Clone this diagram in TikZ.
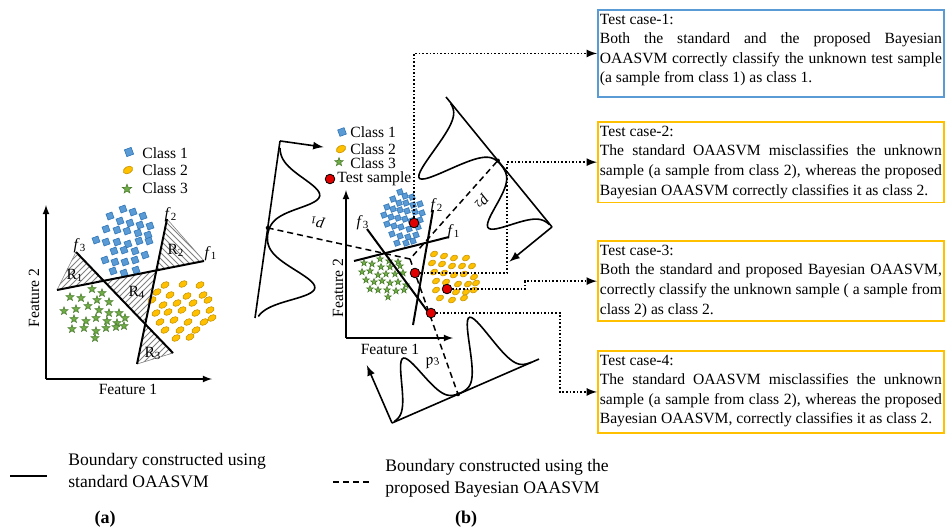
\documentclass[tikz,border=0pt]{standalone}
\usepackage{fontspec}
\setmainfont{Liberation Serif}
\usepackage{tikz}
\usetikzlibrary{arrows}
\usetikzlibrary{shapes.geometric}
\usetikzlibrary{patterns}

\definecolor{sqblue}{HTML}{5B9BD5}
\definecolor{sqblueline}{HTML}{2E75B6}
\definecolor{ovyellow}{HTML}{FFC000}
\definecolor{ovyellowline}{HTML}{C79400}
\definecolor{stgreen}{HTML}{70AD47}
\definecolor{stgreenline}{HTML}{4E7F31}
\definecolor{smred}{HTML}{E00000}
\definecolor{caseblue}{HTML}{5B9BD5}
\definecolor{caseyellow}{HTML}{FFC000}

% one justified line of a test-case box
\newcommand{\jline}[1]{{\spaceskip=0pt\xspaceskip=0pt\makebox[171pt][s]{#1}}}

\tikzset{
  cls1/.style={rectangle, draw=sqblueline, fill=sqblue, line width=0.3pt, minimum size=3.1pt, inner sep=0pt, rotate=20},
  cls2/.style={ellipse, draw=ovyellowline, fill=ovyellow, line width=0.3pt, minimum width=4.4pt, minimum height=2.9pt, inner sep=0pt, rotate=30},
  cls3/.style={star, star points=5, star point ratio=2.4, draw=stgreenline, fill=stgreen, line width=0.3pt, minimum size=4.2pt, inner sep=0pt},
  testpt/.style={circle, draw=black, fill=smred, line width=0.4pt, minimum size=4.8pt, inner sep=0pt},
  bound/.style={line width=1pt},
  bayes/.style={line width=0.75pt, dash pattern=on 3pt off 2pt},
  feat/.style={-latex, line width=0.6pt},
  gauss/.style={line width=0.8pt},
  route/.style={densely dotted, line width=0.8pt, -latex},
  casebox/.style={draw, line width=0.9pt, anchor=north west, text width=171pt, inner xsep=1pt, inner ysep=2pt, align=justify, font=\fontsize{7.8}{9.8}\selectfont},
  lbl/.style={font=\fontsize{7.8}{9.8}\selectfont, inner sep=1pt},
  hatch/.style={pattern=north east lines, pattern color=gray},
}

\begin{document}
\begin{tikzpicture}[x=0.5pt, y=-0.5pt]
\useasboundingbox (0,0) rectangle (945,530);

% ---------- (a) ----------
\draw[feat] (46,379) -- (46,205);
\draw[feat] (46,379) -- (212,379);
\node[lbl, rotate=90] (afeat2) at (34,298) {Feature 2};
\node[lbl] (afeat1) at (128,389) {Feature 1};

\coordinate (a1s) at (57,290);  \coordinate (a1e) at (204,261);
\coordinate (a2s) at (167,219); \coordinate (a2e) at (137,364);
\coordinate (a3s) at (76,252);  \coordinate (a3e) at (173,353);
\coordinate (a12) at (intersection of a1s--a1e and a2s--a2e);
\coordinate (a13) at (intersection of a1s--a1e and a3s--a3e);
\coordinate (a23) at (intersection of a2s--a2e and a3s--a3e);

% hatched regions
\fill[hatch] (a3s) -- (a1s) -- (a13) -- cycle;
\fill[hatch, pattern=north west lines] (a2s) -- (a1e) -- (a12) -- cycle;
\fill[hatch] (a2e) -- (a3e) -- (a23) -- cycle;
\fill[hatch] (a13) -- (a12) -- (a23) -- cycle;
\draw[gray, line width=0.3pt] (a3s) -- (a1s);
\draw[gray, line width=0.3pt] (a2s) -- (a1e);
\draw[gray, line width=0.3pt] (a2e) -- (a3e);

% samples
\foreach \p [count=\k] in {(123,209),(133,212),(143,216),(110,216),(120,221),(130,223),(140,225),(150,226),
  (106,229),(117,230),(127,231),(138,233),(148,235),(96,240),(106,242),(117,242),(128,244),(139,241),(149,241),
  (114,251),(124,250),(135,251),(145,255),(105,260),(115,262),(125,262),(135,260),(113,271),(124,273),(136,270)}
  \node[cls1] (asq\k) at \p {};
\foreach \p [count=\k] in {(92,289),(102,293),(70,297),(81,298),(97,300),(109,302),(64,311),(76,309),(88,306),
  (99,310),(109,313),(119,313),(125,318),(74,319),(86,321),(96,318),(107,321),(117,323),(72,329),(84,328),
  (96,331),(106,328),(116,327),(124,326),(95,338)}
  \node[cls3] (ast\k) at \p {};
\foreach \p [count=\k] in {(165,285),(183,284),(200,285),(157,292),(170,295),(187,296),(203,295),(152,300),
  (163,305),(177,303),(193,303),(208,300),(156,313),(168,312),(182,310),(196,313),(210,310),(160,322),(174,320),
  (188,322),(204,322),(212,318),(165,330),(180,330),(196,330),(176,338),(190,337)}
  \node[cls2] (aov\k) at \p {};

% boundaries
\draw[bound] (a1s) -- (a1e);
\draw[bound] (a2s) -- (a2e);
\draw[bound] (a3s) -- (a3e);
\node[lbl] (af1) at (211,254) {\textit{f}\textsubscript{1}};
\node[lbl] (af2) at (171,215) {\textit{f}\textsubscript{2}};
\node[lbl] (af3) at (80,246) {\textit{f}\textsubscript{3}};
\node[lbl] (ar1) at (75,275) {R\textsubscript{1}};
\node[lbl] (ar2) at (176,250) {R\textsubscript{2}};
\node[lbl] (ar3) at (153,353) {R\textsubscript{3}};
\node[lbl] (ar4) at (137,292) {R\textsubscript{4}};

% legend
\node[cls1, minimum size=3.6pt] (akey1) at (129,152) {};
\node[cls2, minimum width=5pt, minimum height=3.4pt] (akey2) at (128,170) {};
\node[cls3, minimum size=4.8pt] (akey3) at (127,189) {};
\node[lbl, anchor=west] (akey1t) at (140,153) {Class 1};
\node[lbl, anchor=west] (akey2t) at (140,170) {Class 2};
\node[lbl, anchor=west] (akey3t) at (140,188) {Class 3};

% ---------- (b) ----------
\draw[feat] (346,338) -- (346,190);
\draw[feat] (346,338) -- (453,338);
\node[lbl, rotate=90] (bfeat2) at (338,288) {Feature 2};
\node[lbl] (bfeat1) at (390,349) {Feature 1};

\foreach \p [count=\k] in {(400,192),(405,196),(412,197),(393,199),(399,203),(406,203),(413,205),(420,204),
  (387,207),(393,209),(400,210),(407,211),(415,212),(422,213),(384,215),(391,217),(398,218),(405,219),(411,221),
  (420,220),(387,224),(394,226),(401,227),(409,229),(418,227),(392,234),(400,236),(408,237),(416,235),
  (397,243),(406,243),(413,241)}
  \node[cls1, minimum size=2.6pt] (bsq\k) at \p {};
\foreach \p [count=\k] in {(380,259),(389,261),(398,262),(364,263),(372,264),(381,267),(390,267),(400,266),
  (362,272),(370,271),(378,275),(386,274),(395,274),(403,273),(366,280),(374,282),(382,281),(390,283),(398,282),
  (406,285),(370,289),(378,290),(387,290),(396,291),(404,290),(388,297)}
  \node[cls3, minimum size=3.5pt] (bst\k) at \p {};
\foreach \p [count=\k] in {(434,254),(444,256),(454,258),(466,258),(432,263),(442,264),(452,266),(462,266),
  (472,266),(434,272),(444,273),(454,275),(464,274),(474,277),(436,281),(446,282),(458,284),(468,284),(476,283),
  (436,290),(456,292),(466,292),(474,290),(440,298),(452,300),(464,298)}
  \node[cls2, minimum width=3.8pt, minimum height=2.6pt] (bov\k) at \p {};

\coordinate (b1s) at (354,261); \coordinate (b1e) at (449,237);
\coordinate (b2s) at (433,210); \coordinate (b2e) at (413,325);
\coordinate (b3s) at (367,229); \coordinate (b3e) at (431,316);
\draw[bound] (b1s) -- (b1e);
\draw[bound] (b2s) -- (b2e);
\draw[bound] (b3s) -- (b3e);
\node[lbl] (bf1) at (454,232) {\textit{f}\textsubscript{1}};
\node[lbl] (bf2) at (437,206) {\textit{f}\textsubscript{2}};
\node[lbl] (bf3) at (363,223) {\textit{f}\textsubscript{3}};

% class densities
\begin{scope}[shift={(255,318)}, x={(0.0699pt,0.4951pt)}, y={(0.4951pt,-0.0699pt)}]
  \draw[gauss] (0,0) -- (178.8,0);
  \draw[gauss, -latex] (178.8,0) -- (178.8,44);
  \draw[gauss] plot[domain=2:172, samples=90, smooth] (\x, {55*exp(-((\x-38)/21.2)*((\x-38)/21.2)) + 47*exp(-((\x-130)/21.2)*((\x-130)/21.2))});
  \coordinate (p1pt) at (91,0);
\end{scope}
\begin{scope}[shift={(446,97)}, x={(0.316pt,-0.3875pt)}, y={(-0.3875pt,-0.316pt)}]
  \draw[gauss] (0,0) -- (167.7,0);
  \draw[gauss, -latex] (167.7,0) -- (167.7,55);
  \draw[gauss] plot[domain=8:164, samples=90, smooth] (\x, {72*exp(-((\x-46)/17)*((\x-46)/17)) + 50*exp(-((\x-128)/17)*((\x-128)/17))});
  \coordinate (p2pt) at (82,0);
\end{scope}
\begin{scope}[shift={(392,423)}, x={(0.4585pt,0.1995pt)}, y={(-0.1995pt,0.4585pt)}]
  \draw[gauss] (0,0) -- (160.3,0);
  \draw[gauss, -latex] (0,0) -- (0,63);
  \draw[gauss] plot[domain=3:152, samples=90, smooth] (\x, {55*exp(-((\x-36)/15.6)*((\x-36)/15.6)) + 66*exp(-((\x-113)/15.6)*((\x-113)/15.6))});
  \coordinate (p3pt) at (72,0);
\end{scope}
\fill (p1pt) circle (1pt);
\fill (p2pt) circle (1pt);
\fill (p3pt) circle (1pt);

% Bayesian boundary
\coordinate (J) at (410,259);
\draw[bayes] (p1pt) -- (J) -- (p2pt);
\draw[bayes] (J) -- (p3pt);
\node[lbl, rotate=168] (lp1) at (317,222) {\textit{p}\textsubscript{1}};
\node[lbl, rotate=-131] (lp2) at (481,202) {\textit{p}\textsubscript{2}};
\node[lbl, rotate=10] (lp3) at (433,362) {\textit{p}\textsubscript{3}};

% test samples
\node[testpt] (t1) at (414,223) {};
\node[testpt] (t2) at (415,273) {};
\node[testpt] (t3) at (447,289) {};
\node[testpt] (t4) at (431,313) {};

% legend
\node[cls1, minimum size=3.4pt] (bkey1) at (342,132) {};
\node[cls2, minimum width=5pt, minimum height=3.4pt] (bkey2) at (341,149) {};
\node[cls3, minimum size=4.4pt] (bkey3) at (339,162) {};
\node[testpt] (bkey4) at (330,179) {};
\node[lbl, anchor=west] (bkey1t) at (348,132) {Class 1};
\node[lbl, anchor=west] (bkey2t) at (348,149) {Class 2};
\node[lbl, anchor=west] (bkey3t) at (348,163) {Class 3};
\node[lbl, anchor=west] (bkey4t) at (335,179) {Test sample};

% ---------- test cases ----------
\node[casebox, draw=caseblue] (case1) at (597,9) {Test case-1:\\
  \jline{Both the standard and the proposed Bayesian}\\
  \jline{OAASVM correctly classify the unknown test sample}\\
  (a sample from class 1) as class 1.\rule[-5pt]{0pt}{5pt}};
\node[casebox, draw=caseyellow] (case2) at (597,121) {Test case-2:\\
  \jline{The standard OAASVM misclassifies the unknown}\\
  \jline{sample (a sample from class 2), whereas the proposed}\\
  Bayesian OAASVM correctly classifies it as class 2.};
\node[casebox, draw=caseyellow] (case3) at (597,240) {Test case-3:\\
  \jline{Both the standard and proposed Bayesian OAASVM,}\\
  \jline{correctly classify the unknown sample ( a sample from}\\
  class 2) as class 2.};
\node[casebox, draw=caseyellow] (case4) at (597,350) {Test case-4:\\
  \jline{The standard OAASVM misclassifies the unknown}\\
  \jline{sample (a sample from class 2), whereas the proposed}\\
  Bayesian OAASVM, correctly classifies it as class 2.\rule[-2.5pt]{0pt}{2.5pt}};

\coordinate (c2x) at (507,0);
\coordinate (c3x) at (525,0);
\coordinate (c4x) at (560,0);
\draw[route] (t1) |- (case1.west);
\draw[route] (t2) -| (c2x |- case2.west) -- (case2.west);
\draw[route] (t3) -| (c3x |- case3.west) -- (case3.west);
\draw[route] (t4) -| (c4x |- case4.west) -- (case4.west);

% ---------- legend ----------
\coordinate (ls1) at (10,476);  \coordinate (ls2) at (47,476);
\coordinate (ld1) at (333,482); \coordinate (ld2) at (372,482);
\draw[bound] (ls1) -- (ls2);
\draw[bayes] (ld1) -- (ld2);
\node[anchor=west, align=left, font=\fontsize{8.8}{11}\selectfont, inner sep=1pt] (leg1) at (66,471) {Boundary constructed using\\standard OAASVM};
\node[anchor=west, align=left, font=\fontsize{8.8}{11}\selectfont, inner sep=1pt] (leg2) at (383,478) {Boundary constructed using the\\proposed Bayesian OAASVM};
\node[font=\fontsize{9}{11}\selectfont\bfseries] (capa) at (105,519) {(a)};
\node[font=\fontsize{9}{11}\selectfont\bfseries] (capb) at (466,519) {(b)};
\end{tikzpicture}
\end{document}
